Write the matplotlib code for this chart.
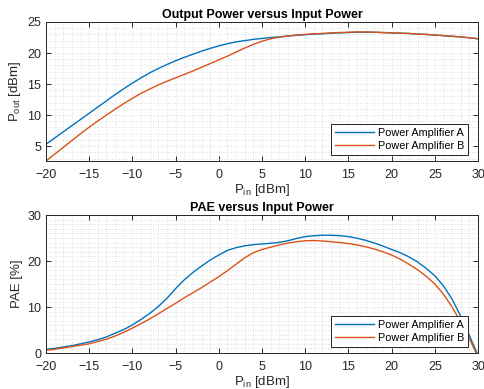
import matplotlib
matplotlib.use('Agg')
import matplotlib.pyplot as plt
from matplotlib.ticker import MultipleLocator

plt.rcParams['font.family'] = ['Liberation Sans', 'DejaVu Sans']
plt.rcParams['mathtext.fontset'] = 'custom'
plt.rcParams['mathtext.rm'] = 'Liberation Sans'
plt.rcParams['mathtext.it'] = 'Liberation Sans'

# Input power sweep (dBm), -20 .. 30 in 1 dB steps
pin = list(range(-20, 31))

# Output power (dBm)
pout_a = [5.3, 6.3, 7.3, 8.3, 9.3, 10.3, 11.3, 12.3, 13.3, 14.25,
          15.15, 16.0, 16.8, 17.5, 18.15, 18.75, 19.3, 19.8, 20.3, 20.75,
          21.15, 21.5, 21.8, 22.0, 22.2, 22.35, 22.5, 22.6, 22.75, 22.85,
          22.95, 23.05, 23.1, 23.2, 23.25, 23.3, 23.35, 23.35, 23.35, 23.3,
          23.25, 23.2, 23.15, 23.05, 23.0, 22.9, 22.8, 22.7, 22.6, 22.45,
          22.3]
pout_b = [2.6, 3.7, 4.8, 5.9, 7.0, 8.05, 9.05, 10.0, 10.95, 11.85,
          12.7, 13.5, 14.2, 14.85, 15.45, 16.0, 16.55, 17.1, 17.7, 18.3,
          18.9, 19.5, 20.15, 20.8, 21.4, 21.9, 22.3, 22.55, 22.75, 22.9,
          23.0, 23.1, 23.15, 23.25, 23.3, 23.35, 23.4, 23.4, 23.35, 23.3,
          23.25, 23.2, 23.15, 23.05, 23.0, 22.9, 22.8, 22.7, 22.6, 22.45,
          22.3]

# Power added efficiency (%)
pae_a = [0.8, 1.0, 1.3, 1.6, 2.0, 2.4, 2.9, 3.5, 4.3, 5.1,
         6.1, 7.3, 8.6, 10.1, 11.9, 14.0, 15.9, 17.5, 18.9, 20.2,
         21.3, 22.3, 22.9, 23.3, 23.55, 23.7, 23.85, 24.05, 24.4, 24.9,
         25.3, 25.5, 25.6, 25.6, 25.5, 25.3, 24.95, 24.5, 23.9, 23.25,
         22.5, 21.8, 20.9, 19.8, 18.4, 16.8, 14.6, 11.7, 8.0, 3.8,
         -0.5]
pae_b = [0.6, 0.8, 1.1, 1.4, 1.7, 2.0, 2.5, 3.0, 3.7, 4.5,
         5.4, 6.4, 7.4, 8.5, 9.7, 10.8, 12.0, 13.1, 14.2, 15.4,
         16.6, 17.9, 19.3, 20.7, 21.8, 22.5, 23.0, 23.5, 23.9, 24.2,
         24.4, 24.45, 24.35, 24.2, 24.0, 23.8, 23.5, 23.1, 22.6, 22.0,
         21.3, 20.4, 19.3, 18.1, 16.7, 15.0, 12.8, 10.0, 6.7, 3.1,
         -0.8]

labels = ['Power Amplifier A', 'Power Amplifier B']
blue = '#0072BD'
orange = '#D95319'
dark = '#262626'


def style_axes(ax, ylim, ymajor):
    ax.set_xlim(-20, 30)
    ax.set_ylim(*ylim)
    ax.xaxis.set_major_locator(MultipleLocator(5))
    ax.xaxis.set_minor_locator(MultipleLocator(1))
    ax.yaxis.set_major_locator(MultipleLocator(ymajor))
    ax.yaxis.set_minor_locator(MultipleLocator(1))
    ax.grid(which='both', linestyle=(0, (1, 2.5)), linewidth=0.5, color='#c4c4c4')
    ax.set_axisbelow(True)
    ax.tick_params(which='major', direction='in', top=True, right=True,
                   length=3.5, width=0.7, labelsize=9, colors=dark)
    ax.tick_params(axis='x', pad=5.5)
    ax.tick_params(which='minor', length=0)
    for s in ax.spines.values():
        s.set_color(dark)
        s.set_linewidth(0.7)
    ax.set_xlabel('P$_{\\rm in}$ [dBm]', fontsize=9.5, color=dark, labelpad=1)
    leg = ax.legend(loc='lower right', bbox_to_anchor=(1 - 10 / 432, 6 / 139),
                    borderaxespad=0, fontsize=7.8, fancybox=False,
                    edgecolor=dark, framealpha=1, borderpad=0.35,
                    handlelength=3.6, handletextpad=0.4, labelspacing=0.3)
    leg.get_frame().set_linewidth(0.7)


fig = plt.figure(figsize=(4.84, 3.89), dpi=100)

ax1 = fig.add_axes([46 / 484, 1 - 161 / 389, 432 / 484, 139 / 389])
ax1.plot(pin, pout_a, color=blue, lw=1.0, label=labels[0])
ax1.plot(pin, pout_b, color=orange, lw=1.0, label=labels[1])
ax1.set_ylabel('P$_{\\rm out}$ [dBm]', fontsize=9.5, color=dark, labelpad=3)
ax1.set_title('Output Power versus Input Power', fontsize=9, fontweight='bold', pad=3)
style_axes(ax1, (2.6, 25), 5)

ax2 = fig.add_axes([46 / 484, 1 - 353 / 389, 432 / 484, 138 / 389])
ax2.plot(pin, pae_a, color=blue, lw=1.0, label=labels[0])
ax2.plot(pin, pae_b, color=orange, lw=1.0, label=labels[1])
ax2.set_ylabel('PAE [%]', fontsize=9.5, color=dark, labelpad=3)
ax2.set_title('PAE versus Input Power', fontsize=9, fontweight='bold', pad=3)
style_axes(ax2, (0, 30), 10)

fig.savefig('out.png', dpi=100, facecolor='white')
